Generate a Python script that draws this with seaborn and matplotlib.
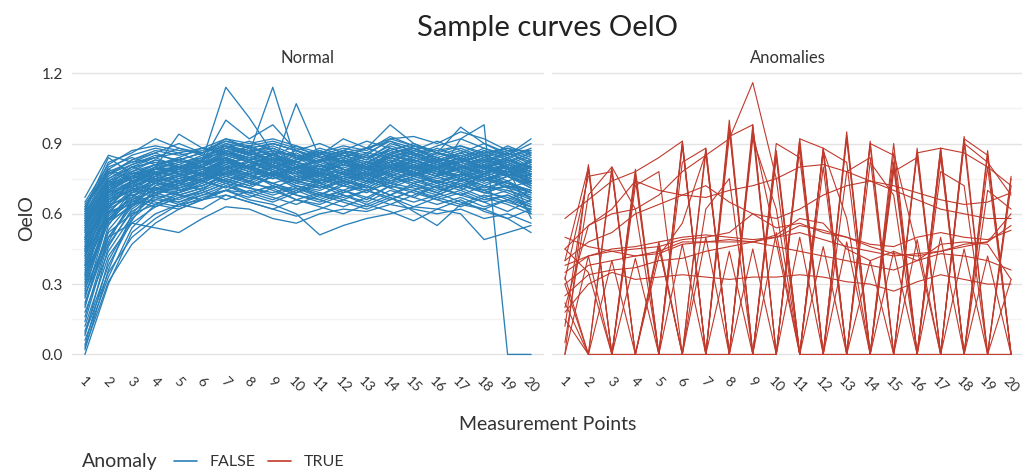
import pandas as pd
import matplotlib.pyplot as plt
import seaborn as sns
from matplotlib.lines import Line2D

# measurement points on the x axis
points = list(range(1, 21))
tick_labels = [str(p) for p in points]

# normal curves
normal_curves = [
    [0.00, 0.30, 0.52, 0.60, 0.64, 0.66, 0.70, 0.69, 0.72, 0.68, 0.66, 0.70, 0.67, 0.72, 0.70, 0.67, 0.70, 0.66, 0.68, 0.64],
    [0.04, 0.40, 0.58, 0.66, 0.70, 0.72, 0.77, 0.74, 0.78, 0.75, 0.73, 0.76, 0.74, 0.79, 0.81, 0.77, 0.79, 0.75, 0.73, 0.70],
    [0.08, 0.46, 0.62, 0.69, 0.71, 0.74, 0.80, 0.82, 0.78, 0.80, 0.77, 0.75, 0.78, 0.82, 0.79, 0.76, 0.80, 0.78, 0.74, 0.77],
    [0.12, 0.42, 0.56, 0.63, 0.67, 0.69, 0.73, 0.71, 0.69, 0.72, 0.69, 0.67, 0.70, 0.73, 0.71, 0.68, 0.72, 0.69, 0.67, 0.63],
    [0.16, 0.50, 0.64, 0.71, 0.74, 0.77, 0.83, 0.79, 0.84, 0.80, 0.77, 0.81, 0.78, 0.85, 0.83, 0.80, 0.82, 0.86, 0.79, 0.82],
    [0.20, 0.55, 0.69, 0.75, 0.78, 0.80, 0.86, 0.84, 0.81, 0.85, 0.80, 0.83, 0.80, 0.86, 0.88, 0.83, 0.82, 0.85, 0.82, 0.86],
    [0.24, 0.58, 0.67, 0.73, 0.72, 0.75, 0.80, 0.77, 0.80, 0.75, 0.73, 0.77, 0.74, 0.79, 0.76, 0.73, 0.76, 0.72, 0.70, 0.67],
    [0.27, 0.60, 0.71, 0.77, 0.80, 0.82, 0.88, 0.85, 0.87, 0.82, 0.80, 0.84, 0.81, 0.88, 0.85, 0.82, 0.85, 0.81, 0.84, 0.79],
    [0.30, 0.61, 0.69, 0.71, 0.70, 0.72, 0.76, 0.74, 0.78, 0.73, 0.71, 0.75, 0.72, 0.77, 0.74, 0.71, 0.74, 0.70, 0.72, 0.60],
    [0.33, 0.64, 0.73, 0.79, 0.82, 0.83, 0.90, 0.86, 0.89, 0.85, 0.82, 0.86, 0.83, 0.90, 0.87, 0.84, 0.87, 0.83, 0.86, 0.82],
    [0.36, 0.62, 0.68, 0.65, 0.63, 0.67, 0.70, 0.67, 0.71, 0.66, 0.64, 0.68, 0.65, 0.70, 0.67, 0.64, 0.67, 0.63, 0.66, 0.61],
    [0.39, 0.65, 0.70, 0.74, 0.76, 0.78, 0.84, 0.80, 0.83, 0.78, 0.76, 0.80, 0.77, 0.82, 0.79, 0.76, 0.79, 0.75, 0.78, 0.73],
    [0.42, 0.67, 0.74, 0.78, 0.75, 0.77, 0.82, 0.79, 0.75, 0.78, 0.73, 0.76, 0.80, 0.77, 0.81, 0.78, 0.75, 0.78, 0.80, 0.76],
    [0.45, 0.69, 0.76, 0.81, 0.83, 0.86, 0.92, 0.88, 0.90, 0.87, 0.84, 0.87, 0.85, 0.92, 0.89, 0.87, 0.89, 0.86, 0.88, 0.84],
    [0.47, 0.65, 0.71, 0.69, 0.66, 0.70, 0.74, 0.71, 0.68, 0.71, 0.67, 0.70, 0.66, 0.72, 0.69, 0.66, 0.69, 0.65, 0.68, 0.63],
    [0.49, 0.71, 0.77, 0.79, 0.78, 0.81, 0.85, 0.82, 0.84, 0.80, 0.78, 0.82, 0.79, 0.84, 0.81, 0.78, 0.81, 0.77, 0.80, 0.75],
    [0.51, 0.68, 0.73, 0.76, 0.74, 0.77, 0.80, 0.77, 0.81, 0.76, 0.74, 0.78, 0.75, 0.80, 0.77, 0.74, 0.77, 0.73, 0.76, 0.71],
    [0.53, 0.73, 0.79, 0.83, 0.81, 0.85, 0.88, 0.86, 0.83, 0.87, 0.82, 0.85, 0.82, 0.87, 0.84, 0.81, 0.84, 0.80, 0.83, 0.78],
    [0.55, 0.69, 0.72, 0.75, 0.73, 0.76, 0.79, 0.76, 0.79, 0.74, 0.72, 0.76, 0.73, 0.78, 0.75, 0.72, 0.75, 0.71, 0.74, 0.69],
    [0.56, 0.75, 0.81, 0.85, 0.83, 0.86, 0.90, 0.88, 0.85, 0.89, 0.84, 0.87, 0.84, 0.89, 0.86, 0.83, 0.86, 0.82, 0.85, 0.80],
    [0.57, 0.70, 0.68, 0.71, 0.69, 0.72, 0.76, 0.73, 0.77, 0.72, 0.70, 0.74, 0.71, 0.76, 0.73, 0.70, 0.73, 0.69, 0.72, 0.67],
    [0.58, 0.77, 0.83, 0.87, 0.85, 0.87, 0.91, 0.89, 0.91, 0.88, 0.85, 0.88, 0.86, 0.91, 0.88, 0.85, 0.88, 0.84, 0.87, 0.83],
    [0.59, 0.72, 0.75, 0.78, 0.76, 0.79, 0.83, 0.80, 0.77, 0.80, 0.75, 0.79, 0.76, 0.81, 0.78, 0.75, 0.78, 0.74, 0.77, 0.72],
    [0.60, 0.79, 0.85, 0.88, 0.86, 0.88, 0.92, 0.90, 0.92, 0.89, 0.86, 0.89, 0.87, 0.93, 0.89, 0.86, 0.89, 0.85, 0.88, 0.86],
    [0.62, 0.84, 0.77, 0.79, 0.80, 0.83, 0.87, 0.84, 0.86, 0.81, 0.79, 0.83, 0.80, 0.85, 0.82, 0.79, 0.82, 0.78, 0.81, 0.76],
    [0.65, 0.81, 0.87, 0.89, 0.87, 0.86, 0.89, 0.87, 0.88, 0.84, 0.82, 0.86, 0.83, 0.88, 0.85, 0.82, 0.85, 0.81, 0.84, 0.79],
    [0.67, 0.85, 0.82, 0.84, 0.88, 0.85, 0.87, 0.83, 0.85, 0.80, 0.83, 0.86, 0.84, 0.87, 0.90, 0.86, 0.84, 0.88, 0.85, 0.90],
    [0.46, 0.66, 0.73, 0.78, 0.80, 0.83, 1.14, 1.01, 0.86, 0.85, 0.82, 0.84, 0.80, 0.85, 0.83, 0.80, 0.82, 0.79, 0.81, 0.78],
    [0.50, 0.70, 0.76, 0.79, 0.78, 0.80, 0.87, 0.86, 1.14, 0.82, 0.79, 0.83, 0.80, 0.84, 0.81, 0.78, 0.81, 0.77, 0.80, 0.74],
    [0.44, 0.68, 0.74, 0.77, 0.79, 0.81, 0.84, 0.88, 0.80, 1.07, 0.84, 0.82, 0.79, 0.83, 0.80, 0.77, 0.80, 0.76, 0.79, 0.73],
    [0.52, 0.72, 0.78, 0.81, 0.80, 0.82, 1.00, 0.92, 0.98, 0.87, 0.83, 0.85, 0.82, 0.86, 0.84, 0.81, 0.84, 0.80, 0.82, 0.77],
    [0.48, 0.70, 0.75, 0.78, 0.77, 0.79, 0.82, 0.80, 0.82, 0.78, 0.76, 0.79, 0.77, 0.81, 0.79, 0.76, 0.92, 0.98, 0.00, 0.00],
    [0.28, 0.50, 0.56, 0.54, 0.52, 0.58, 0.63, 0.62, 0.58, 0.56, 0.60, 0.62, 0.61, 0.64, 0.62, 0.60, 0.62, 0.58, 0.60, 0.56],
    [0.34, 0.56, 0.64, 0.66, 0.65, 0.68, 0.70, 0.66, 0.64, 0.60, 0.51, 0.55, 0.58, 0.60, 0.63, 0.62, 0.60, 0.49, 0.52, 0.55],
    [0.22, 0.52, 0.60, 0.64, 0.62, 0.66, 0.68, 0.65, 0.62, 0.59, 0.62, 0.66, 0.63, 0.67, 0.61, 0.55, 0.64, 0.62, 0.58, 0.52],
    [0.38, 0.63, 0.72, 0.80, 0.94, 0.88, 0.86, 0.83, 0.85, 0.82, 0.85, 0.92, 0.88, 0.98, 0.90, 0.86, 0.97, 0.90, 0.85, 0.92],
    [0.61, 0.82, 0.86, 0.92, 0.88, 0.86, 0.91, 0.88, 0.90, 0.87, 0.90, 0.86, 0.88, 0.92, 0.93, 0.90, 0.95, 0.92, 0.87, 0.87],
    [0.26, 0.47, 0.61, 0.67, 0.69, 0.73, 0.78, 0.75, 0.77, 0.74, 0.71, 0.74, 0.72, 0.68, 0.73, 0.76, 0.72, 0.70, 0.74, 0.66],
    [0.43, 0.66, 0.70, 0.73, 0.71, 0.74, 0.79, 0.82, 0.78, 0.74, 0.77, 0.72, 0.70, 0.75, 0.78, 0.74, 0.71, 0.77, 0.73, 0.70],
    [0.54, 0.74, 0.80, 0.82, 0.80, 0.84, 0.86, 0.82, 0.80, 0.83, 0.86, 0.81, 0.79, 0.82, 0.87, 0.84, 0.80, 0.84, 0.89, 0.85],
    [0.31, 0.57, 0.66, 0.72, 0.74, 0.75, 0.77, 0.81, 0.84, 0.79, 0.76, 0.73, 0.77, 0.80, 0.76, 0.79, 0.83, 0.79, 0.76, 0.81],
    [0.18, 0.44, 0.59, 0.68, 0.73, 0.76, 0.79, 0.76, 0.73, 0.76, 0.79, 0.77, 0.74, 0.78, 0.80, 0.77, 0.74, 0.76, 0.71, 0.74],
    [0.57, 0.70, 0.76, 0.74, 0.72, 0.75, 0.81, 0.84, 0.80, 0.77, 0.73, 0.70, 0.74, 0.79, 0.82, 0.78, 0.75, 0.72, 0.69, 0.65],
    [0.40, 0.62, 0.74, 0.70, 0.68, 0.71, 0.75, 0.72, 0.76, 0.80, 0.83, 0.79, 0.75, 0.73, 0.76, 0.80, 0.78, 0.74, 0.78, 0.82],
    [0.63, 0.78, 0.74, 0.77, 0.79, 0.82, 0.84, 0.80, 0.77, 0.74, 0.78, 0.81, 0.78, 0.74, 0.77, 0.81, 0.79, 0.83, 0.80, 0.58],
    [0.02, 0.36, 0.60, 0.70, 0.73, 0.70, 0.78, 0.81, 0.76, 0.79, 0.74, 0.77, 0.81, 0.76, 0.80, 0.83, 0.78, 0.74, 0.79, 0.72],
    [0.06, 0.33, 0.54, 0.64, 0.69, 0.74, 0.71, 0.77, 0.73, 0.70, 0.75, 0.72, 0.69, 0.74, 0.78, 0.73, 0.70, 0.75, 0.71, 0.68],
    [0.10, 0.38, 0.57, 0.72, 0.76, 0.73, 0.79, 0.75, 0.80, 0.84, 0.79, 0.75, 0.78, 0.82, 0.77, 0.80, 0.84, 0.79, 0.76, 0.80],
    [0.14, 0.48, 0.66, 0.70, 0.75, 0.79, 0.76, 0.80, 0.77, 0.73, 0.77, 0.81, 0.77, 0.73, 0.79, 0.82, 0.78, 0.81, 0.77, 0.74],
    [0.21, 0.50, 0.63, 0.74, 0.79, 0.76, 0.82, 0.86, 0.82, 0.79, 0.83, 0.79, 0.76, 0.80, 0.85, 0.81, 0.78, 0.82, 0.86, 0.81],
    [0.25, 0.53, 0.65, 0.68, 0.72, 0.78, 0.74, 0.71, 0.76, 0.72, 0.68, 0.72, 0.76, 0.71, 0.67, 0.72, 0.75, 0.70, 0.66, 0.70],
    [0.29, 0.57, 0.70, 0.76, 0.80, 0.77, 0.84, 0.80, 0.86, 0.81, 0.78, 0.83, 0.80, 0.84, 0.88, 0.84, 0.80, 0.77, 0.82, 0.78],
    [0.32, 0.59, 0.67, 0.75, 0.70, 0.74, 0.79, 0.73, 0.71, 0.75, 0.78, 0.74, 0.71, 0.76, 0.73, 0.69, 0.74, 0.77, 0.73, 0.69],
    [0.35, 0.62, 0.75, 0.80, 0.77, 0.81, 0.87, 0.83, 0.79, 0.83, 0.87, 0.82, 0.79, 0.84, 0.80, 0.77, 0.82, 0.85, 0.81, 0.85],
    [0.37, 0.58, 0.65, 0.71, 0.68, 0.71, 0.75, 0.72, 0.76, 0.71, 0.68, 0.73, 0.70, 0.66, 0.70, 0.74, 0.71, 0.67, 0.70, 0.66],
    [0.41, 0.66, 0.72, 0.76, 0.80, 0.76, 0.81, 0.85, 0.81, 0.77, 0.81, 0.77, 0.82, 0.78, 0.83, 0.79, 0.76, 0.81, 0.78, 0.75],
    [0.44, 0.63, 0.69, 0.73, 0.77, 0.74, 0.78, 0.74, 0.78, 0.82, 0.78, 0.74, 0.78, 0.82, 0.77, 0.73, 0.77, 0.81, 0.76, 0.73],
    [0.46, 0.70, 0.78, 0.83, 0.79, 0.83, 0.89, 0.85, 0.88, 0.84, 0.88, 0.85, 0.81, 0.85, 0.89, 0.86, 0.83, 0.87, 0.83, 0.80],
    [0.48, 0.67, 0.72, 0.70, 0.74, 0.77, 0.73, 0.77, 0.72, 0.69, 0.73, 0.69, 0.73, 0.76, 0.72, 0.69, 0.73, 0.69, 0.72, 0.69],
    [0.50, 0.72, 0.80, 0.84, 0.86, 0.82, 0.86, 0.83, 0.87, 0.84, 0.81, 0.84, 0.88, 0.85, 0.82, 0.86, 0.83, 0.80, 0.84, 0.87],
    [0.52, 0.69, 0.74, 0.78, 0.76, 0.80, 0.84, 0.79, 0.76, 0.80, 0.76, 0.73, 0.77, 0.81, 0.77, 0.80, 0.84, 0.80, 0.77, 0.74],
    [0.54, 0.71, 0.77, 0.81, 0.77, 0.81, 0.85, 0.89, 0.84, 0.81, 0.77, 0.82, 0.78, 0.82, 0.86, 0.82, 0.79, 0.83, 0.80, 0.76],
    [0.55, 0.74, 0.78, 0.75, 0.78, 0.82, 0.79, 0.83, 0.78, 0.75, 0.79, 0.83, 0.79, 0.76, 0.80, 0.84, 0.81, 0.77, 0.81, 0.77],
    [0.57, 0.76, 0.83, 0.86, 0.82, 0.84, 0.88, 0.91, 0.87, 0.84, 0.87, 0.84, 0.88, 0.91, 0.86, 0.83, 0.86, 0.90, 0.86, 0.82],
    [0.58, 0.73, 0.76, 0.73, 0.71, 0.75, 0.80, 0.76, 0.73, 0.69, 0.74, 0.78, 0.74, 0.71, 0.75, 0.71, 0.68, 0.72, 0.76, 0.71],
    [0.60, 0.75, 0.80, 0.77, 0.81, 0.79, 0.83, 0.87, 0.83, 0.79, 0.83, 0.87, 0.84, 0.80, 0.84, 0.88, 0.84, 0.80, 0.78, 0.83],
    [0.61, 0.74, 0.71, 0.76, 0.73, 0.77, 0.74, 0.78, 0.82, 0.78, 0.74, 0.78, 0.75, 0.79, 0.83, 0.79, 0.76, 0.80, 0.76, 0.72],
    [0.62, 0.80, 0.84, 0.81, 0.84, 0.88, 0.85, 0.89, 0.85, 0.82, 0.86, 0.82, 0.86, 0.84, 0.87, 0.91, 0.87, 0.84, 0.87, 0.83],
    [0.63, 0.77, 0.81, 0.84, 0.80, 0.77, 0.81, 0.78, 0.82, 0.86, 0.81, 0.78, 0.82, 0.79, 0.83, 0.80, 0.83, 0.87, 0.83, 0.80],
    [0.64, 0.79, 0.75, 0.79, 0.83, 0.80, 0.84, 0.80, 0.76, 0.80, 0.77, 0.81, 0.85, 0.81, 0.78, 0.82, 0.86, 0.82, 0.79, 0.75],
    [0.38, 0.60, 0.66, 0.63, 0.67, 0.70, 0.66, 0.70, 0.67, 0.64, 0.68, 0.65, 0.62, 0.66, 0.70, 0.66, 0.63, 0.67, 0.64, 0.60],
    [0.42, 0.61, 0.64, 0.68, 0.65, 0.69, 0.73, 0.69, 0.66, 0.70, 0.66, 0.63, 0.67, 0.64, 0.68, 0.72, 0.68, 0.65, 0.61, 0.66],
    [0.49, 0.64, 0.67, 0.64, 0.68, 0.66, 0.70, 0.74, 0.70, 0.66, 0.69, 0.66, 0.70, 0.67, 0.63, 0.67, 0.64, 0.68, 0.65, 0.62],
    [0.53, 0.66, 0.70, 0.67, 0.64, 0.68, 0.72, 0.68, 0.65, 0.69, 0.72, 0.68, 0.64, 0.68, 0.72, 0.69, 0.65, 0.62, 0.66, 0.63],
    [0.09, 0.35, 0.50, 0.58, 0.64, 0.62, 0.68, 0.65, 0.62, 0.66, 0.63, 0.60, 0.64, 0.61, 0.57, 0.62, 0.66, 0.61, 0.58, 0.62],
    [0.59, 0.78, 0.82, 0.86, 0.90, 0.86, 0.89, 0.86, 0.90, 0.87, 0.84, 0.87, 0.91, 0.88, 0.85, 0.89, 0.92, 0.88, 0.84, 0.88],
    [0.45, 0.68, 0.73, 0.77, 0.74, 0.78, 0.82, 0.78, 0.75, 0.79, 0.75, 0.72, 0.76, 0.80, 0.76, 0.73, 0.77, 0.74, 0.78, 0.74],
    [0.56, 0.72, 0.76, 0.80, 0.84, 0.80, 0.77, 0.81, 0.85, 0.81, 0.78, 0.82, 0.79, 0.83, 0.79, 0.76, 0.80, 0.84, 0.80, 0.77],
    [0.34, 0.57, 0.63, 0.69, 0.73, 0.77, 0.83, 0.79, 0.76, 0.80, 0.83, 0.79, 0.75, 0.72, 0.76, 0.79, 0.75, 0.79, 0.83, 0.79],
    [0.03, 0.31, 0.47, 0.56, 0.62, 0.66, 0.72, 0.69, 0.72, 0.68, 0.65, 0.69, 0.72, 0.68, 0.65, 0.68, 0.72, 0.76, 0.72, 0.69],
]

# anomalous curves
anomaly_curves = [
    [0.00, 0.81, 0.00, 0.77, 0.00, 0.91, 0.00, 1.00, 0.00, 0.87, 0.00, 0.88, 0.00, 0.91, 0.00, 0.88, 0.00, 0.93, 0.00, 0.75],
    [0.12, 0.79, 0.00, 0.75, 0.00, 0.89, 0.00, 0.97, 0.00, 0.85, 0.00, 0.86, 0.00, 0.89, 0.00, 0.86, 0.00, 0.90, 0.00, 0.72],
    [0.30, 0.00, 0.80, 0.00, 0.48, 0.00, 0.88, 0.00, 0.98, 0.00, 0.92, 0.00, 0.95, 0.00, 0.82, 0.00, 0.88, 0.00, 0.87, 0.00],
    [0.22, 0.00, 0.78, 0.00, 0.46, 0.00, 0.86, 0.00, 0.95, 0.00, 0.90, 0.00, 0.92, 0.00, 0.80, 0.00, 0.86, 0.00, 0.85, 0.00],
    [0.15, 0.00, 0.40, 0.00, 0.46, 0.00, 0.50, 0.00, 0.45, 0.00, 0.50, 0.00, 0.48, 0.00, 0.44, 0.00, 0.50, 0.00, 0.42, 0.00],
    [0.00, 0.42, 0.00, 0.41, 0.00, 0.47, 0.00, 0.44, 0.00, 0.52, 0.00, 0.46, 0.00, 0.40, 0.00, 0.49, 0.00, 0.45, 0.00, 0.32],
    [0.20, 0.55, 0.60, 0.62, 0.68, 0.78, 0.85, 0.92, 1.16, 0.75, 0.00, 0.88, 0.82, 0.00, 0.78, 0.84, 0.00, 0.90, 0.82, 0.68],
    [0.58, 0.66, 0.74, 0.78, 0.84, 0.91, 0.00, 0.93, 0.98, 0.00, 0.92, 0.88, 0.00, 0.90, 0.85, 0.00, 0.88, 0.86, 0.80, 0.72],
    [0.45, 0.55, 0.62, 0.74, 0.70, 0.68, 0.67, 0.70, 0.72, 0.75, 0.80, 0.81, 0.78, 0.74, 0.70, 0.66, 0.62, 0.60, 0.58, 0.58],
    [0.40, 0.48, 0.52, 0.60, 0.64, 0.68, 0.72, 0.65, 0.60, 0.58, 0.62, 0.68, 0.72, 0.74, 0.72, 0.69, 0.66, 0.64, 0.65, 0.69],
    [0.38, 0.42, 0.45, 0.46, 0.48, 0.50, 0.51, 0.50, 0.49, 0.50, 0.52, 0.49, 0.46, 0.44, 0.42, 0.43, 0.44, 0.47, 0.48, 0.55],
    [0.25, 0.34, 0.36, 0.37, 0.40, 0.41, 0.44, 0.46, 0.48, 0.46, 0.44, 0.42, 0.40, 0.38, 0.36, 0.40, 0.43, 0.42, 0.40, 0.36],
    [0.18, 0.30, 0.35, 0.32, 0.33, 0.34, 0.33, 0.32, 0.33, 0.33, 0.34, 0.33, 0.31, 0.30, 0.27, 0.31, 0.34, 0.32, 0.30, 0.30],
    [0.50, 0.46, 0.44, 0.42, 0.44, 0.48, 0.48, 0.49, 0.48, 0.50, 0.55, 0.53, 0.50, 0.46, 0.43, 0.42, 0.44, 0.46, 0.48, 0.60],
    [0.30, 0.38, 0.40, 0.42, 0.43, 0.47, 0.48, 0.48, 0.48, 0.51, 0.58, 0.56, 0.45, 0.40, 0.44, 0.40, 0.47, 0.48, 0.47, 0.32],
    [0.32, 0.76, 0.78, 0.00, 0.42, 0.56, 0.86, 0.00, 0.92, 0.62, 0.00, 0.87, 0.58, 0.00, 0.86, 0.45, 0.00, 0.92, 0.85, 0.00],
    [0.05, 0.68, 0.80, 0.62, 0.00, 0.82, 0.88, 0.00, 0.95, 0.48, 0.00, 0.80, 0.00, 0.82, 0.68, 0.00, 0.78, 0.72, 0.00, 0.76],
    [0.45, 0.35, 0.00, 0.72, 0.78, 0.00, 0.62, 0.75, 0.00, 0.90, 0.84, 0.00, 0.78, 0.84, 0.00, 0.86, 0.88, 0.00, 0.70, 0.62],
    [0.35, 0.42, 0.44, 0.45, 0.46, 0.49, 0.50, 0.52, 0.60, 0.54, 0.56, 0.52, 0.50, 0.47, 0.46, 0.50, 0.52, 0.50, 0.49, 0.53],
    [0.33, 0.00, 0.00, 0.00, 0.00, 0.00, 0.00, 0.00, 0.00, 0.00, 0.88, 0.00, 0.93, 0.00, 0.90, 0.00, 0.84, 0.00, 0.80, 0.00],
    [0.40, 0.80, 0.00, 0.79, 0.00, 0.90, 0.00, 0.96, 0.00, 0.84, 0.00, 0.00, 0.00, 0.00, 0.00, 0.00, 0.00, 0.00, 0.00, 0.00],
]

panel_titles = ['Normal', 'Anomalies']
blue = '#2980b9'
red = '#c0392b'


def to_long(curves):
    rows = []
    for i, curve in enumerate(curves):
        for p, v in zip(points, curve):
            rows.append({'curve': i, 'point': p, 'OelO': v})
    return pd.DataFrame(rows)


df_normal = to_long(normal_curves)
df_anom = to_long(anomaly_curves)

sns.set_style('white')
plt.rcParams['font.family'] = ['Lato', 'DejaVu Sans']
text_col = '#333333'

fig = plt.figure(figsize=(10.22, 4.72), dpi=100)
ax1 = fig.add_axes([72 / 1022, 1 - 368 / 472, 472 / 1022, 299 / 472])
ax2 = fig.add_axes([552 / 1022, 1 - 368 / 472, 472 / 1022, 299 / 472])

for ax, data, col, lw, name in [(ax1, df_normal, blue, 0.95, panel_titles[0]),
                                (ax2, df_anom, red, 0.8, panel_titles[1])]:
    sns.lineplot(data=data, x='point', y='OelO', units='curve', estimator=None,
                 color=col, linewidth=lw, ax=ax, legend=False)
    ax.set_xlim(0.45, 20.55)
    ax.set_ylim(-0.058, 1.218)
    ax.set_yticks([0.0, 0.3, 0.6, 0.9, 1.2])
    ax.set_yticks([0.15, 0.45, 0.75, 1.05], minor=True)
    ax.grid(axis='y', which='major', color='#e3e3e3', linewidth=1.0)
    ax.grid(axis='y', which='minor', color='#f3f3f3', linewidth=1.0)
    ax.grid(axis='x', visible=False)
    ax.set_axisbelow(True)
    for s in ax.spines.values():
        s.set_visible(False)
    ax.set_xticks(points)
    ax.set_xticklabels(tick_labels, rotation=-45, ha='center', fontsize=10,
                       color=text_col)
    ax.tick_params(axis='x', length=3, width=0.6, color='#333333', pad=2)
    ax.set_xlabel('')
    ax.set_ylabel('')
    ax.set_title(name, fontsize=12, color=text_col, pad=4)

ax1.tick_params(axis='y', which='major', length=3, width=0.6, color='#333333',
                labelsize=11, labelcolor=text_col)
ax1.tick_params(axis='y', which='minor', length=0)
ax1.set_yticklabels(['0.0', '0.3', '0.6', '0.9', '1.2'])
ax1.set_ylabel('OelO', fontsize=14, color=text_col, labelpad=5)
ax2.tick_params(axis='y', which='both', length=0, labelleft=False)

fig.suptitle('Sample curves OelO', x=0.536, y=0.968, fontsize=21, color='#222222')
fig.text(0.536, 1 - 425 / 472, 'Measurement Points', ha='center', va='center',
         fontsize=14, color=text_col)

# bottom legend
fig.text(82 / 1022, 1 - 462 / 472, 'Anomaly', ha='left', va='center',
         fontsize=14, color=text_col)
handles = [Line2D([], [], color=blue, lw=1.2), Line2D([], [], color=red, lw=1.2)]
fig.legend(handles, ['FALSE', 'TRUE'], ncol=2, frameon=False,
           loc='center left', bbox_to_anchor=(160 / 1022, 1 - 462 / 472),
           fontsize=11.5, handlelength=1.4, handletextpad=0.8, columnspacing=0.8,
           labelcolor=text_col)

fig.savefig('out.png', dpi=100)
